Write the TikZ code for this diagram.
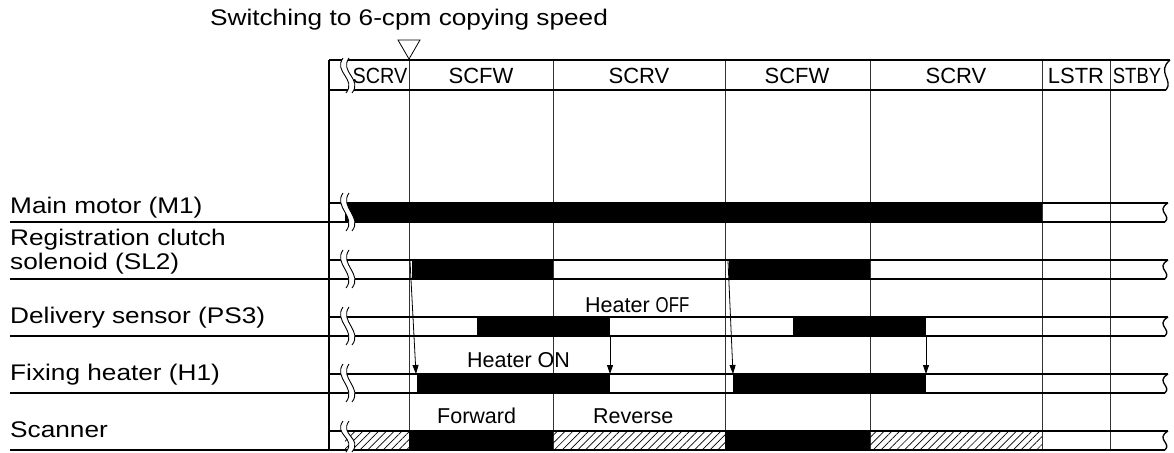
\documentclass[tikz,border=0pt]{standalone}
\usepackage{fontspec}
\usepackage{graphicx}
\setmainfont{Liberation Sans}
\newfontfamily\lblfont{Liberation Sans}[FakeStretch=1.16]
\usetikzlibrary{arrows.meta,patterns.meta}
\begin{document}
\begin{tikzpicture}[x=1pt,y=-1pt,
  thickline/.style={line width=1.3pt},
  gridline/.style={line width=0.8pt, black!80},
  bar/.style={fill=black},
  hatch/.style={pattern={Lines[angle=45,distance=5.5pt,line width=0.7pt]}},
  lbl/.style={font=\lblfont\fontsize{22.6}{24}\selectfont, anchor=base west, inner sep=0pt},
  hdr/.style={font=\fontsize{22}{24}\selectfont, anchor=base, inner sep=0pt},
  note/.style={font=\fontsize{21.5}{24}\selectfont, anchor=base west, inner sep=0pt},
  arr/.style={line width=0.8pt, -{Triangle[length=9pt,width=6pt]}}]
\useasboundingbox (0,0) rectangle (1174,452);

% vertical time lines
\foreach \x in {409,553,725,870,1042,1110} \draw[gridline] (\x,60) -- (\x,450);
\draw[thickline] (329,60) -- (329,450);

% header
\draw[thickline] (329,60) -- (1170,60);
\draw[thickline] (329,90) -- (1166,90);
\draw[thickline] (1170,60) .. controls (1156,72) and (1174,80) .. (1166,90);

% bars
\fill[bar] (345,203) rectangle (1042,222);
\fill[bar] (412,260) rectangle (553,279);
\fill[bar] (729,260) rectangle (870,279);
\fill[bar] (477,317) rectangle (610,336);
\fill[bar] (793,317) rectangle (926,336);
\fill[bar] (417,374) rectangle (610,393);
\fill[bar] (733,374) rectangle (926,393);
\draw[hatch, draw=none] (345,431) rectangle (409,450);
\fill[bar] (409,431) rectangle (553,450);
\draw[hatch, draw=none] (553,431) rectangle (725,450);
\fill[bar] (725,431) rectangle (870,450);
\draw[hatch, draw=none] (870,431) rectangle (1042,450);

% band lines with right-hand break
\foreach \t in {203,260,317,374,431} {
  \pgfmathsetmacro{\b}{\t+19}
  \draw[thickline] (329,\t) -- (1168,\t);
  \draw[thickline] (10,\b) -- (1165,\b);
  \draw[thickline] (1168,\t) .. controls (1155,\t+8) and (1172,\b-7) .. (1165,\b);
}

% left break marks
\foreach \t/\b in {58/93,193/231,250/288,307/345,364/402,421/452} {
  \fill[white] (343,\t) .. controls (333,\t+14) and (357,\b-14) .. (346,\b)
     -- (352,\b) .. controls (363,\b-14) and (339,\t+14) .. (349,\t) -- cycle;
  \draw[line width=0.9pt] (343,\t) .. controls (333,\t+14) and (357,\b-14) .. (346,\b);
  \draw[line width=0.9pt] (349,\t) .. controls (339,\t+14) and (363,\b-14) .. (352,\b);
}

% switching marker
\node[lbl, anchor=base] (title) at (409,26) {Switching to 6-cpm copying speed};
\coordinate (mk) at (409,59);
\draw[line width=0.8pt] (398,40) -- (420,40) -- (mk) -- cycle;

% header labels
\node[hdr] (h1) at (380,83) {\scalebox{0.9}[1]{SCRV}};
\node[hdr] (h2) at (481,83) {SCFW};
\node[hdr] (h3) at (639,83) {SCRV};
\node[hdr] (h4) at (797,83) {SCFW};
\node[hdr] (h5) at (956,83) {SCRV};
\node[hdr] (h6) at (1076,83) {LSTR};
\node[hdr] (h7) at (1137,83) {\scalebox{0.84}[1]{STBY}};

% row labels
\node[lbl] (m1) at (10,213) {Main motor (M1)};
\node[lbl] (sl2a) at (10,245) {Registration clutch};
\node[lbl] (sl2b) at (10,269) {solenoid (SL2)};
\node[lbl] (ps3) at (10,323) {Delivery sensor (PS3)};
\node[lbl] (h1lbl) at (10,380) {Fixing heater (H1)};
\node[lbl] (scn) at (10,437) {Scanner};

% notes
\node[note] (hoff) at (585,312) {Heater \scalebox{0.78}[1]{OFF}};
\node[note] (hon) at (467,367) {Heater ON};
\node[note] (fwd) at (437,423) {Forward};
\node[note] (rev) at (593,423) {Reverse};

% arrows
\coordinate (a1s) at (410,261); \coordinate (a1e) at (416,374);
\coordinate (a2s) at (728,261); \coordinate (a2e) at (733,374);
\coordinate (a3s) at (610,336); \coordinate (a3e) at (610,374);
\coordinate (a4s) at (926,336); \coordinate (a4e) at (926,374);
\draw[arr] (a1s) -- (a1e);
\draw[arr] (a2s) -- (a2e);
\draw[arr] (a3s) -- (a3e);
\draw[arr] (a4s) -- (a4e);
\end{tikzpicture}
\end{document}
